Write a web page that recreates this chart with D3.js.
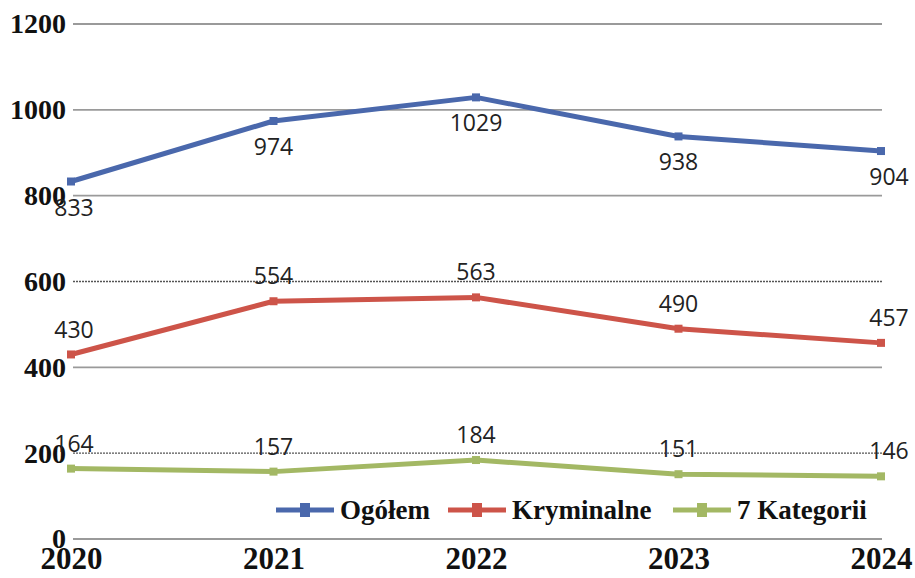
<!DOCTYPE html>
<html><head><meta charset="utf-8">
<script src="https://cdn.jsdelivr.net/npm/d3@7"></script>
<style>body{margin:0;background:#fff}</style>
</head><body>
<svg id="c" width="915" height="578"></svg>
<script>
const years = ["2020","2021","2022","2023","2024"];
const ogolem = [833, 974, 1029, 938, 904];
const kryminalne = [430, 554, 563, 490, 457];
const kategorii = [164, 157, 184, 151, 146];
const yTicks = [0, 200, 400, 600, 800, 1000, 1200];
const seriesNames = ["Ogółem", "Kryminalne", "7 Kategorii"];
const colors = ["#4a68ac", "#cd5449", "#a3b864"];

const svg = d3.select("#c");
const x = d3.scalePoint().domain(years).range([71, 881]);
const y = d3.scaleLinear().domain([0, 1200]).range([539, 24]);

// gridlines
const dotted = new Set([600, 200]);
svg.append("g").selectAll("line").data(yTicks).join("line")
  .attr("x1", 73).attr("x2", 882)
  .attr("y1", d => y(d)).attr("y2", d => y(d))
  .attr("stroke", d => dotted.has(d) ? "#555" : "#9a9a9a")
  .attr("stroke-width", d => dotted.has(d) ? 1.3 : 1.8)
  .attr("stroke-dasharray", d => dotted.has(d) ? "2,1" : null);

// y axis labels
const yAxis = d3.axisLeft(y).tickValues(yTicks).tickSize(0).tickPadding(0).tickFormat(d3.format("d"));
const gy = svg.append("g").attr("transform", "translate(66,0)").call(yAxis);
gy.select(".domain").remove();
gy.selectAll("text").attr("font-family", "Liberation Serif, serif").attr("font-weight", "bold")
  .attr("font-size", 28).attr("fill", "#111").attr("dy", "0.32em");

// x axis labels
const xAxis = d3.axisBottom(x).tickSize(0).tickPadding(0);
const gx = svg.append("g").attr("transform", "translate(0,541)").call(xAxis);
gx.select(".domain").remove();
gx.selectAll("text").attr("font-family", "Liberation Serif, serif").attr("font-weight", "bold")
  .attr("font-size", 31).attr("fill", "#111").attr("dy", "0.9em");

const allSeries = [ogolem, kryminalne, kategorii];
const labelOffset = [26, -25, -25];
const line = d3.line().x((d, i) => x(years[i])).y(d => y(d));

allSeries.forEach((s, k) => {
  const g = svg.append("g");
  g.append("path").datum(s).attr("d", line).attr("fill", "none")
    .attr("stroke", colors[k]).attr("stroke-width", 5).attr("stroke-linejoin", "round");
  g.selectAll("rect").data(s).join("rect")
    .attr("x", (d, i) => x(years[i]) - 4).attr("y", d => y(d) - 4)
    .attr("width", 8).attr("height", 8).attr("fill", colors[k]);
  g.selectAll("text").data(s).join("text")
    .attr("x", (d, i) => x(years[i]) + (i === 0 ? 3 : (i === 4 ? 8 : 0)))
    .attr("y", d => y(d) + labelOffset[k])
    .attr("dy", "0.35em").attr("text-anchor", "middle")
    .attr("font-family", "Open Sans, sans-serif").attr("font-size", 23).attr("fill", "#222")
    .text(d => d);
});

// legend
const legendX = [276, 448, 673];
const lg = svg.append("g");
seriesNames.forEach((n, k) => {
  const lx = legendX[k], ly = 510;
  lg.append("line").attr("x1", lx).attr("x2", lx + 58).attr("y1", ly).attr("y2", ly)
    .attr("stroke", colors[k]).attr("stroke-width", 5);
  lg.append("rect").attr("x", lx + 24).attr("y", ly - 7).attr("width", 10).attr("height", 14).attr("fill", colors[k]);
  lg.append("text").attr("x", lx + 64).attr("y", ly).attr("dy", "0.35em")
    .attr("font-family", "Liberation Serif, serif").attr("font-weight", "bold")
    .attr("font-size", 27).attr("fill", "#111").text(n);
});
</script>
</body></html>
